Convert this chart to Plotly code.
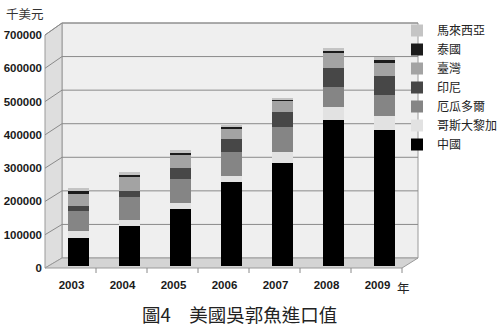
import plotly.graph_objects as go

W, H = 500, 331
years = ["2003", "2004", "2005", "2006", "2007", "2008", "2009"]
china      = [84000, 120000, 171000, 252000, 309000, 438000, 408000]
costa_rica = [21000, 18000, 18000, 18000, 33000, 39000, 42000]
ecuador    = [60000, 69000, 72000, 72000, 75000, 60000, 63000]
indonesia  = [15000, 18000, 33000, 39000, 45000, 57000, 57000]
taiwan     = [39000, 42000, 39000, 33000, 36000, 45000, 39000]
thailand   = [6000, 6000, 6000, 3000, 1500, 9000, 9000]
malaysia   = [10000, 9000, 9000, 6000, 5000, 6000, 9000]

series = [
    ("中國", china, "#000000"),
    ("哥斯大黎加", costa_rica, "#e2e2e2"),
    ("厄瓜多爾", ecuador, "#858585"),
    ("印尼", indonesia, "#474747"),
    ("臺灣", taiwan, "#a3a3a3"),
    ("泰國", thailand, "#1c1c1c"),
    ("馬來西亞", malaysia, "#c4c4c4"),
]
y_ticks = [0, 100000, 200000, 300000, 400000, 500000, 600000, 700000]
YMAX = 700000

def px(x):
    return x / W

def py(y):
    return 1 - y / H

# geometry (pixels)
FX0, FX1, FY = 45, 402, 268      # front plane
BX0, BX1, BY0, BY1 = 62, 418, 23, 258  # back wall
FTOP = 35

fig = go.Figure()
for name, vals, col in series:
    fig.add_trace(go.Bar(x=list(range(len(years))), y=vals, name=name,
                         marker=dict(color=col, line=dict(width=0)),
                         width=0.43))
# carrier trace so the front-plane label axes get drawn
fig.add_trace(go.Scatter(x=[None], y=[None], xaxis="x2", yaxis="y2",
                         showlegend=False, hoverinfo="skip"))

shapes = []
# back wall
shapes.append(dict(type="rect", xref="paper", yref="paper", layer="below",
                   x0=px(BX0), x1=px(BX1), y0=py(BY1), y1=py(BY0),
                   fillcolor="#efefef", line=dict(color="#9a9a9a", width=1)))
# left wall
shapes.append(dict(type="path", xref="paper", yref="paper", layer="below",
                   path=f"M{px(FX0)},{py(FTOP)} L{px(BX0)},{py(BY0)} L{px(BX0)},{py(BY1)} L{px(FX0)},{py(FY)} Z",
                   fillcolor="#dedede", line=dict(color="#9a9a9a", width=1)))
# floor
shapes.append(dict(type="path", xref="paper", yref="paper", layer="below",
                   path=f"M{px(FX0)},{py(FY)} L{px(BX0)},{py(BY1)} L{px(BX1)},{py(BY1)} L{px(FX1)},{py(FY)} Z",
                   fillcolor="#d4d4d4", line=dict(color="#9a9a9a", width=1)))
# gridlines
for v in y_ticks[1:]:
    yb = BY1 - (BY1 - BY0) * v / YMAX
    yf = FY - (FY - FTOP) * v / YMAX
    shapes.append(dict(type="line", xref="paper", yref="paper", layer="below",
                       x0=px(BX0), x1=px(BX1), y0=py(yb), y1=py(yb),
                       line=dict(color="#8a8a8a", width=1)))
    shapes.append(dict(type="line", xref="paper", yref="paper", layer="below",
                       x0=px(FX0), x1=px(BX0), y0=py(yf), y1=py(yb),
                       line=dict(color="#8a8a8a", width=1)))
# category boundary ticks on the front edge
n = len(years)
for k in range(1, n + 1):
    xx = FX0 + (FX1 - FX0) * k / n
    shapes.append(dict(type="line", xref="paper", yref="paper", layer="below",
                       x0=px(xx), x1=px(xx), y0=py(FY), y1=py(FY + 5),
                       line=dict(color="#8a8a8a", width=1)))

cjk = "Noto Sans CJK TC, Noto Sans CJK SC, sans-serif"
numfont = dict(family="Liberation Sans, Arial", size=11.5, color="#1a1a1a", weight="bold")

fig.update_layout(
    width=W, height=H,
    margin=dict(l=0, r=0, t=0, b=0, autoexpand=False),
    paper_bgcolor="white", plot_bgcolor="rgba(0,0,0,0)",
    barmode="stack",
    shapes=shapes,
    xaxis=dict(domain=[px(53), px(410)], range=[-0.5, 6.5], visible=False),
    yaxis=dict(domain=[py(266), py(33)], range=[0, YMAX], visible=False),
    xaxis2=dict(domain=[px(FX0 + 1), px(FX1 + 1)], range=[-0.5, 6.5], anchor="y2",
                tickvals=list(range(n)), ticktext=years, showgrid=False,
                zeroline=False, showline=False, ticks="", ticklabelstandoff=8,
                tickfont=numfont),
    yaxis2=dict(domain=[py(FY), py(FTOP)], range=[0, YMAX], anchor="free",
                position=px(FX0), tickvals=y_ticks, tickformat="d",
                showgrid=False, zeroline=False, showline=False, ticks="",
                ticklabelstandoff=3, tickfont=numfont),
    legend=dict(x=px(397), y=py(16), xanchor="left", yanchor="top",
                traceorder="reversed", bgcolor="rgba(0,0,0,0)",
                font=dict(family=cjk, size=12, color="#222"),
                itemwidth=30, tracegroupgap=0),
    annotations=[
        dict(text="千美元", xref="paper", yref="paper", x=px(4), y=py(14),
             xanchor="left", yanchor="middle", showarrow=False,
             font=dict(family=cjk, size=12.5, color="#333")),
        dict(text="年", xref="paper", yref="paper", x=px(395), y=py(287),
             xanchor="left", yanchor="middle", showarrow=False,
             font=dict(family=cjk, size=12.5, color="#222")),
        dict(text="圖4　美國吳郭魚進口值", xref="paper", yref="paper", x=px(239), y=py(314),
             xanchor="center", yanchor="middle", showarrow=False,
             font=dict(family=cjk, size=18.5, color="#222")),
    ],
)
fig.write_html("out.html")
